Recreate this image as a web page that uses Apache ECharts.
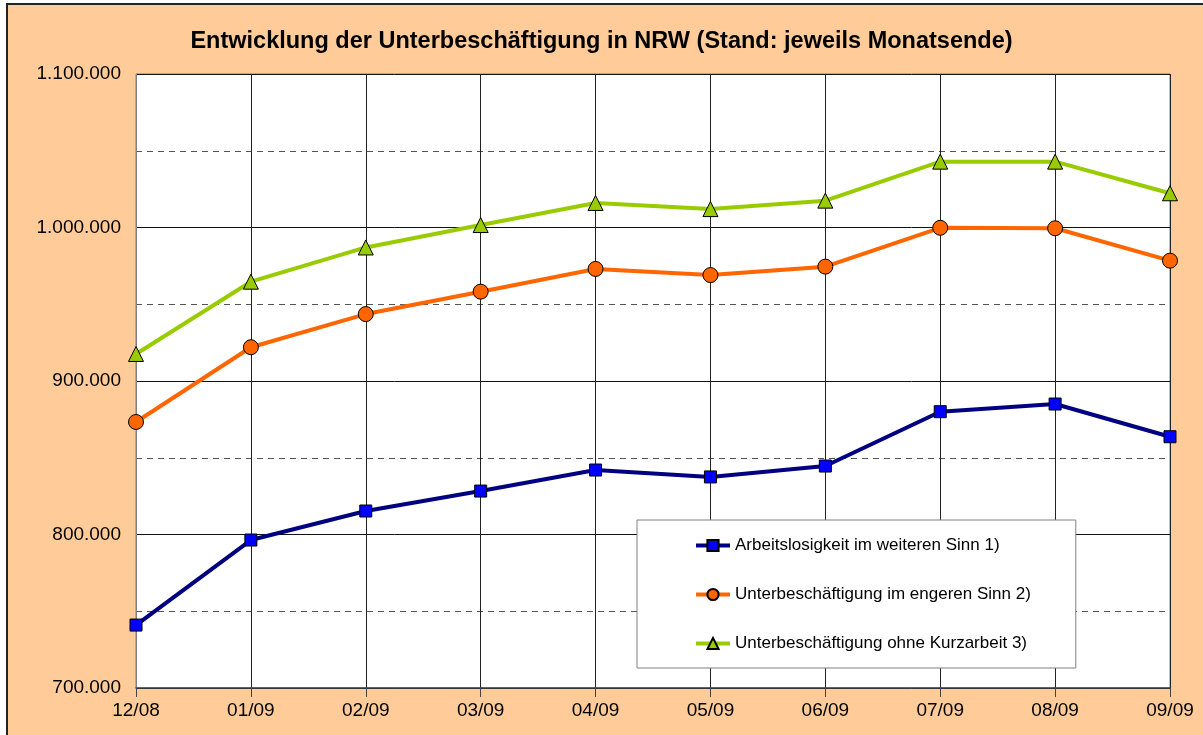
<!DOCTYPE html>
<html><head><meta charset="utf-8">
<script src="https://cdn.jsdelivr.net/npm/echarts@6/dist/echarts.min.js"></script>
<style>
html,body{margin:0;padding:0;background:#fff;width:1203px;height:735px;overflow:hidden}
#frame{position:absolute;left:6px;top:3px;width:1200px;height:740px;border:2px solid #222;background:#FFCC99;box-sizing:border-box}
#chart{position:absolute;left:0;top:0;width:1203px;height:735px}
</style></head>
<body>
<div id="frame"></div>
<div id="chart"></div>
<script>
const categories = ['12/08','01/09','02/09','03/09','04/09','05/09','06/09','07/09','08/09','09/09'];
const arbeitslosigkeit = [741000, 796400, 815300, 828300, 842000, 837500, 844600, 880000, 885000, 863700];
const engererSinn = [873300, 922000, 943600, 958200, 973000, 969000, 974500, 999800, 999500, 978400];
const ohneKurzarbeit = [917600, 964700, 987000, 1001600, 1016000, 1012000, 1017500, 1042900, 1042900, 1022300];
const seriesNames = ['Arbeitslosigkeit im weiteren Sinn 1)', 'Unterbeschäftigung im engeren Sinn 2)', 'Unterbeschäftigung ohne Kurzarbeit 3)'];

const fmt = v => String(v).replace(/\B(?=(\d{3})+(?!\d))/g, '.');
const font = 'Liberation Sans, Arial, sans-serif';
const chart = echarts.init(document.getElementById('chart'), null, {renderer:'canvas'});
chart.setOption({
  animation:false,
  backgroundColor:'transparent',
  textStyle:{fontFamily:font},
  title:{text:'Entwicklung der Unterbeschäftigung in NRW (Stand: jeweils Monatsende)', left:'center', top:25,
    textStyle:{fontSize:23.5, fontWeight:'bold', color:'#000', fontFamily:font}},
  grid:{left:136, top:74, right:33, bottom:47, show:true, backgroundColor:'#fff', borderColor:'#808080', borderWidth:1},
  legend:{orient:'vertical', left:637, top:520, backgroundColor:'#fff', borderColor:'#808080', borderWidth:1,
    padding:[17,45,16,57], itemGap:32, itemWidth:34, itemHeight:14,
    lineStyle:{width:4},
    textStyle:{fontSize:17, color:'#000', lineHeight:17, fontFamily:font},
    data:seriesNames},
  xAxis:{type:'category', data:categories, boundaryGap:false,
    axisLine:{lineStyle:{color:'#444', width:1.5}},
    axisTick:{show:true, length:9, lineStyle:{color:'#444'}},
    axisLabel:{fontSize:19, color:'#000', margin:13, fontFamily:font},
    splitLine:{show:true, lineStyle:{color:'#222', width:1}}},
  yAxis:{type:'value', min:700000, max:1100000, interval:100000,
    axisLine:{show:true, lineStyle:{color:'#808080'}},
    axisTick:{show:false},
    axisLabel:{fontSize:19, color:'#000', margin:15, formatter:fmt, fontFamily:font},
    splitLine:{show:true, lineStyle:{color:'#111', width:1}},
    minorTick:{show:false, splitNumber:2},
    minorSplitLine:{show:true, lineStyle:{color:'#555', type:[6,5], width:1}}},
  series:[
    {name:seriesNames[0], type:'line', data:arbeitslosigkeit, symbol:'rect', symbolSize:12,
      lineStyle:{color:'#000080', width:4}, itemStyle:{color:'#0000FF', borderColor:'#000', borderWidth:1}},
    {name:seriesNames[1], type:'line', data:engererSinn, symbol:'circle', symbolSize:15,
      lineStyle:{color:'#FF6600', width:4}, itemStyle:{color:'#FF6600', borderColor:'#000', borderWidth:1}},
    {name:seriesNames[2], type:'line', data:ohneKurzarbeit, symbol:'triangle', symbolSize:15,
      lineStyle:{color:'#99CC00', width:4}, itemStyle:{color:'#99CC00', borderColor:'#000', borderWidth:1}}
  ]
});
</script>
</body></html>
